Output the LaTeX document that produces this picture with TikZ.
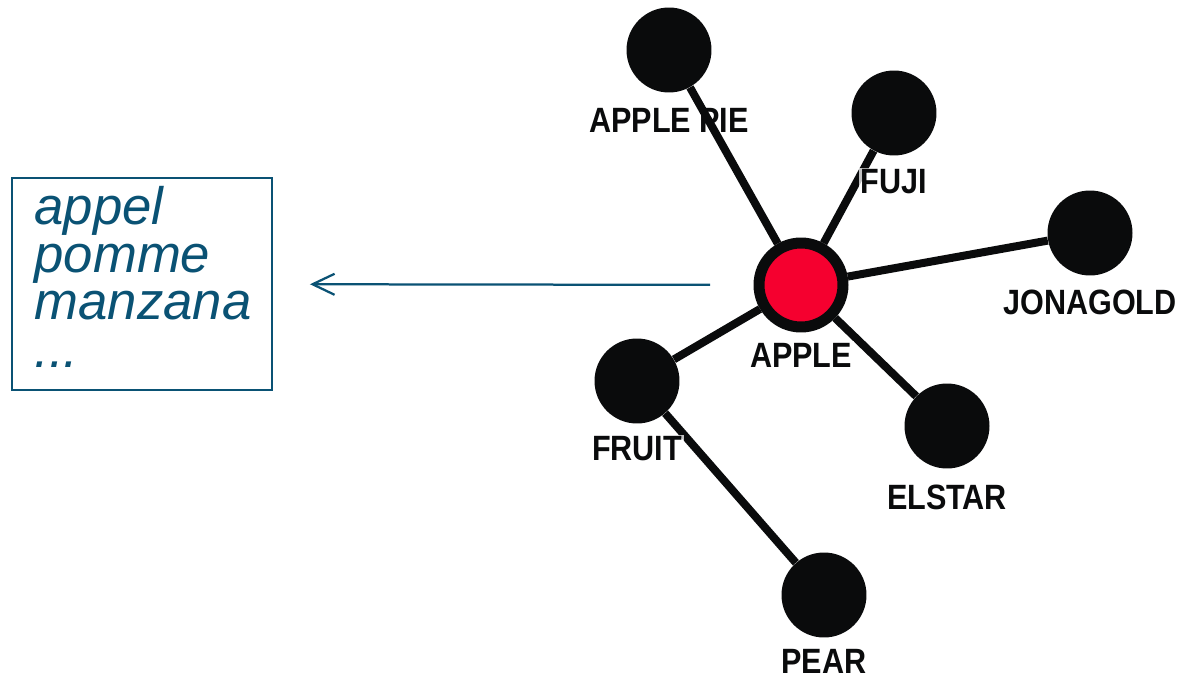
\documentclass[tikz,border=0pt]{standalone}
\usepackage{fontspec}
\setmainfont{Liberation Sans}
\newfontfamily\tagfont[FakeStretch=0.87]{Liberation Sans}
\usetikzlibrary{arrows.meta}
\definecolor{dotblack}{HTML}{0A0B0C}
\definecolor{applered}{HTML}{F5002F}
\definecolor{synblue}{HTML}{0A5274}
\begin{document}
\begin{tikzpicture}[x=0.02cm, y=-0.02cm,
  vertex/.style={fill=dotblack, circle, inner sep=0pt, minimum size=1.7cm},
  root/.style={vertex, fill=applered, draw=dotblack, line width=0.22cm, minimum size=1.68cm},
  edge/.style={draw=dotblack, line width=0.16cm},
  tag/.style={font=\tagfont\bfseries\fontsize{20}{20}\selectfont, text=dotblack, fill=white, fill opacity=0.75, text opacity=1, inner sep=1pt},
  synbox/.style={draw=synblue, line width=0.04cm, text=synblue, minimum width=5.2cm, minimum height=4.26cm, text width=4.3cm, inner xsep=0.45cm, align=left, font=\itshape\fontsize{30}{27}\selectfont},
  pointer/.style={draw=synblue, line width=0.045cm, -{Straight Barb[length=0.44cm, width=0.42cm]}, shorten <=0.87cm, shorten >=0.74cm}]
\useasboundingbox (0,0) rectangle (1184,679);

\node (apple) at (801,285) [root] {};
\node (pie) at (669,50) [vertex] {};
\node (fuji) at (894,113) [vertex] {};
\node (jonagold) at (1090,233) [vertex] {};
\node (elstar) at (947,426) [vertex] {};
\node (fruit) at (637,381) [vertex] {};
\node (pear) at (824,595) [vertex] {};

% the pie label sits under its edge
\node (pie-t) at ([yshift=-1.4cm]pie) [tag] {APPLE PIE};

\draw[edge] (apple) to (pie);
\draw[edge] (apple) to (fuji);
\draw[edge] (apple) to (jonagold);
\draw[edge] (apple) to (elstar);
\draw[edge] (apple) to (fruit);
\draw[edge] (fruit) to (pear);

\node (apple-t) at ([yshift=-1.4cm]apple) [tag] {APPLE};
\node (fuji-t) at ([yshift=-1.38cm]fuji) [tag] {FUJI};
\node (jonagold-t) at ([yshift=-1.39cm]jonagold) [tag] {JONAGOLD};
\node (elstar-t) at ([yshift=-1.42cm]elstar) [tag] {ELSTAR};
\node (fruit-t) at ([yshift=-1.36cm]fruit) [tag] {FRUIT};
\node (pear-t) at ([yshift=-1.32cm]pear) [tag] {PEAR};

\node (syn) at (142,284) [synbox] {appel\\pomme\\manzana\\...\strut};
\draw[pointer] (apple) -- (syn);
\end{tikzpicture}
\end{document}
